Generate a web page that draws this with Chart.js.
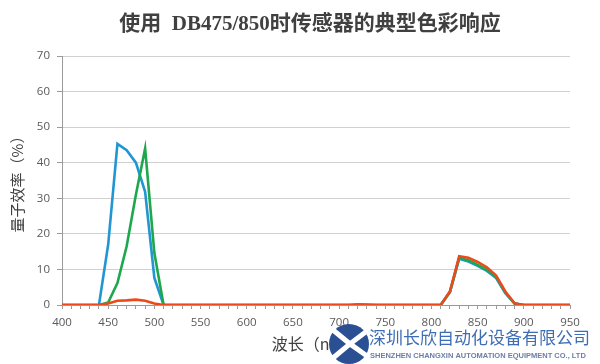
<!DOCTYPE html>
<html>
<head>
<meta charset="utf-8">
<script src="https://cdn.jsdelivr.net/npm/chart.js@4.4.0/dist/chart.umd.min.js"></script>
<style>
  body { margin: 0; background: #fff; }
  #wrap { width: 600px; height: 364px; position: relative; }
</style>
</head>
<body>
<div id="wrap"><canvas id="qeChart" width="600" height="364"></canvas></div>
<script>
// wavelength (nm), one point every 10 nm
var wavelengths = [400, 410, 420, 430, 440, 450, 460, 470, 480, 490,
  500, 510, 520, 530, 540, 550, 560, 570, 580, 590,
  600, 610, 620, 630, 640, 650, 660, 670, 680, 690,
  700, 710, 720, 730, 740, 750, 760, 770, 780, 790,
  800, 810, 820, 830, 840, 850, 860, 870, 880, 890,
  900, 910, 920, 930, 940, 950];

// quantum efficiency (%)
var blueQE = [0, 0, 0, 0, 0, 17, 45.3, 43.5, 40, 31.8,
  7.6, 0, 0, 0, 0, 0, 0, 0, 0, 0,
  0, 0, 0, 0, 0, 0, 0, 0, 0, 0,
  0, 0, 0, 0, 0, 0, 0, 0, 0, 0,
  0, 0, 3.6, 13, 12.2, 11, 9.6, 7.6, 3.3, 0.4,
  0, 0, 0, 0, 0, 0];
var greenQE = [0, 0, 0, 0, 0, 0.7, 6.2, 16.5, 31, 44,
  14.6, 0, 0, 0, 0, 0, 0, 0, 0, 0,
  0, 0, 0, 0, 0, 0, 0, 0, 0, 0,
  0, 0, 0, 0, 0, 0, 0, 0, 0, 0,
  0, 0, 3.7, 13.2, 12.6, 11.3, 9.9, 7.9, 3.5, 0.4,
  0, 0, 0, 0, 0, 0];
var redQE = [0, 0, 0, 0, 0, 0.4, 1.2, 1.3, 1.5, 1.2,
  0.4, 0, 0, 0, 0, 0, 0, 0, 0, 0,
  0, 0, 0, 0, 0, 0, 0, 0, 0, 0,
  0, 0, 0.2, 0.1, 0, 0, 0, 0, 0, 0,
  0, 0, 3.8, 13.7, 13.3, 12.1, 10.6, 8.3, 3.8, 0.5,
  0, 0, 0, 0, 0, 0];

var yTicks = [0, 10, 20, 30, 40, 50, 60, 70];

function toPoints(vals) {
  return vals.map(function(v, i) { return { x: wavelengths[i], y: v }; });
}

// title and watermark painted straight onto the canvas
var decorPlugin = {
  id: 'decor',
  afterDraw: function(chart) {
    var ctx = chart.ctx;
    ctx.save();
    ctx.fillStyle = '#404040';
    ctx.textBaseline = 'middle';
    ctx.textAlign = 'center';
    ctx.font = 'bold 21px "Liberation Serif", "Noto Sans CJK SC"';
    ctx.fillText('使用  DB475/850时传感器的典型色彩响应', 310, 25);

    // logo
    ctx.fillStyle = '#2A4F93';
    ctx.beginPath();
    ctx.arc(349, 344, 20, 0, Math.PI * 2);
    ctx.fill();
    ctx.strokeStyle = '#fff';
    ctx.lineWidth = 5;
    ctx.beginPath();
    ctx.moveTo(333, 330); ctx.quadraticCurveTo(349, 344, 367, 356);
    ctx.moveTo(333, 358); ctx.quadraticCurveTo(349, 344, 367, 331);
    ctx.stroke();

    ctx.textAlign = 'left';
    ctx.fillStyle = '#3D6DB4';
    ctx.font = '17px "Noto Sans CJK SC"';
    ctx.fillText('深圳长欣自动化设备有限公司', 369, 338);
    ctx.fillStyle = '#6B7FA6';
    ctx.font = 'bold 7.5px "Liberation Sans Narrow", "Liberation Sans"';
    ctx.fillText('SHENZHEN CHANGXIN AUTOMATION EQUIPMENT CO., LTD', 370, 356);
    ctx.restore();
  }
};

function createChart() {
  var ctx = document.getElementById('qeChart').getContext('2d');
  var lineStyle = { borderWidth: 2.6, pointRadius: 0, tension: 0, fill: false };
  new Chart(ctx, {
    type: 'line',
    data: {
      datasets: [
        Object.assign({ label: 'Blue', data: toPoints(blueQE), borderColor: '#2196D3', order: 2 }, lineStyle),
        Object.assign({ label: 'Green', data: toPoints(greenQE), borderColor: '#1EA84E', order: 1 }, lineStyle),
        Object.assign({ label: 'Red', data: toPoints(redQE), borderColor: '#EA4A1C', order: 0 }, lineStyle)
      ]
    },
    options: {
      responsive: false,
      animation: false,
      layout: { padding: { top: 56, right: 30, left: 0, bottom: 0 } },
      plugins: { legend: { display: false }, tooltip: { enabled: false } },
      scales: {
        x: {
          type: 'linear',
          min: 400,
          max: 950,
          afterFit: function(s) { s.height = 59; },
          afterBuildTicks: function(s) {
            s.ticks = wavelengths.map(function(w) { return { value: w }; });
          },
          ticks: {
            autoSkip: false,
            maxRotation: 0,
            padding: 7,
            color: '#595959',
            font: { family: '"Open Sans", "Liberation Sans"', size: 11.5 },
            callback: function(v) { return v % 50 === 0 ? v : ''; }
          },
          grid: { drawOnChartArea: false, drawTicks: true, tickLength: 4, color: '#9a9a9a' },
          border: { color: '#9a9a9a' },
          title: {
            display: true,
            text: '波长（nm）',
            color: '#404040',
            font: { family: '"Noto Sans CJK SC"', size: 16 },
            padding: { top: 0, bottom: 10 }
          }
        },
        y: {
          min: 0,
          max: 70,
          afterFit: function(s) { s.width = 62; },
          afterBuildTicks: function(s) {
            s.ticks = yTicks.map(function(v) { return { value: v }; });
          },
          ticks: {
            padding: 7,
            color: '#595959',
            font: { family: '"Open Sans", "Liberation Sans"', size: 11.5 }
          },
          grid: { color: '#d0d0d0', tickLength: 5, tickColor: '#9a9a9a' },
          border: { color: '#9a9a9a' },
          title: {
            display: true,
            text: '量子效率（%）',
            color: '#404040',
            font: { family: '"Noto Sans CJK SC"', size: 15 },
            padding: { top: 8, bottom: 0 }
          }
        }
      }
    },
    plugins: [decorPlugin]
  });
}

document.addEventListener('DOMContentLoaded', createChart);
</script>
</body>
</html>
